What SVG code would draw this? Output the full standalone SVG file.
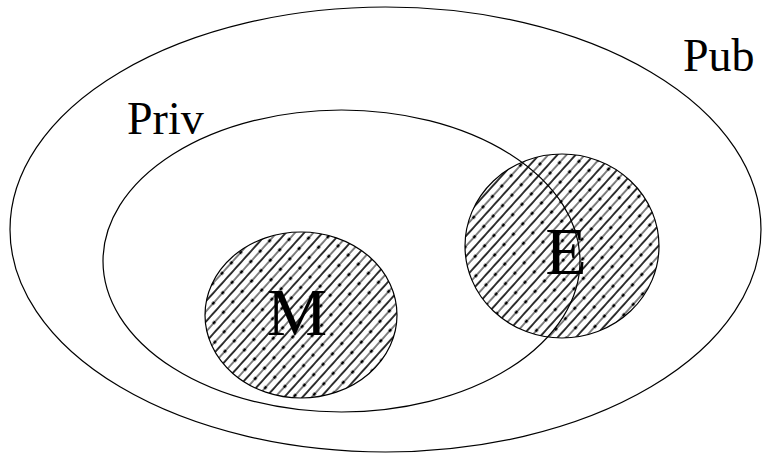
<svg xmlns="http://www.w3.org/2000/svg" width="763" height="455" viewBox="0 0 763 455">
  <style>
    .ring { fill: none; stroke: #000; stroke-width: 1.2; }
    .hatched { fill: url(#hatch); stroke: #000; stroke-width: 1.2; }
    .lbl { font-family: "Liberation Serif", "Times New Roman", serif; fill: #000; }
  </style>
  <defs>
    <pattern id="hatch" patternUnits="userSpaceOnUse" width="14" height="13.6" patternTransform="rotate(-48)">
      <line x1="0" y1="1" x2="14" y2="1" stroke="#000" stroke-width="1.6"/>
      <line x1="0" y1="7.8" x2="14" y2="7.8" stroke="#000" stroke-width="1"/>
      <line x1="0" y1="7.8" x2="14" y2="7.8" stroke="#000" stroke-width="2.6" stroke-dasharray="3 11"/>
    </pattern>
  </defs>
  <rect width="763" height="455" fill="#fff"/>
  <g id="pub">
    <ellipse class="ring" cx="385.5" cy="229.5" rx="375.5" ry="222.5"/>
    <text class="lbl" x="683" y="71" font-size="46">Pub</text>
  </g>
  <g id="priv">
    <ellipse class="ring" cx="341.5" cy="261" rx="238.5" ry="151"/>
    <text class="lbl" x="127" y="134" font-size="46">Priv</text>
  </g>
  <g id="m">
    <ellipse class="hatched" cx="301" cy="315" rx="96" ry="83"/>
    <text class="lbl" x="297" y="335" font-size="68" text-anchor="middle">M</text>
  </g>
  <g id="e">
    <ellipse class="hatched" cx="562" cy="246" rx="97" ry="92"/>
    <text class="lbl" x="566" y="274" font-size="68" text-anchor="middle">E</text>
  </g>
  <g id="connectors"></g>
</svg>
